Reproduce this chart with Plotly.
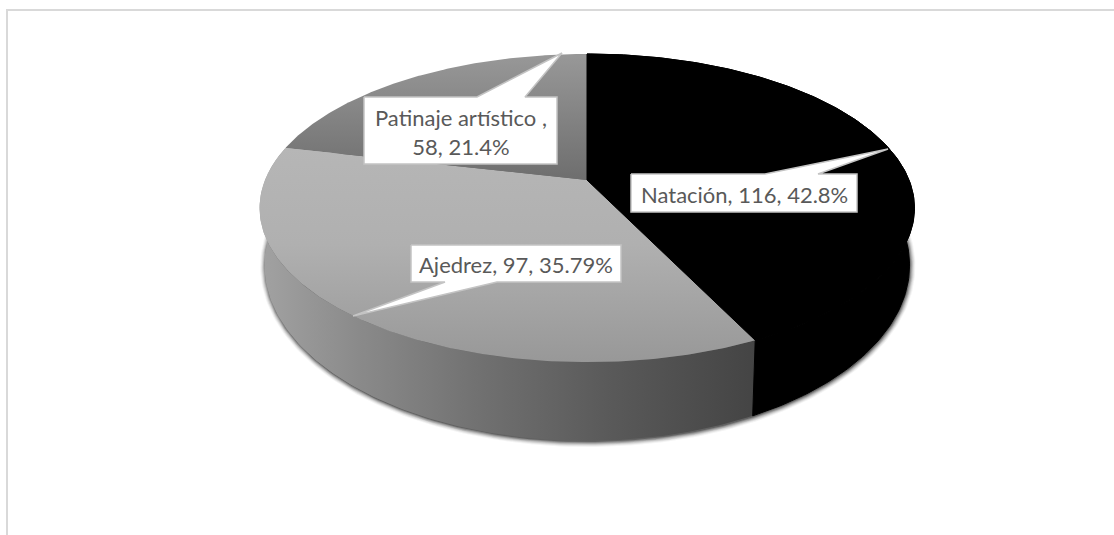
import numpy as np
import plotly.graph_objects as go

categories = ["Natación", "Ajedrez", "Patinaje artístico"]
values = [116, 97, 58]
labels = ["Natación, 116, 42.8%", "Ajedrez, 97, 35.79%", "Patinaje artístico ,<br>58, 21.4%"]

# projection of the pie disc on to the page (pixels)
CX, CY, A, PA, PC = 587.0, 180.0, 322.0, -116.2, 0.182
SIDE_K, SIDE_T, SIDE_X = 1.14, 28.0, 0.985


def top(theta):
    u, v = np.sin(theta), np.cos(theta)
    d = PC * v + 1
    return CX + A * u / d, (PA * v + CY) / d


def bottom(theta):
    x, y = top(theta)
    return CX + (x - CX) * SIDE_X, y * SIDE_K + SIDE_T


fractions = np.array(values) / sum(values)
edges = np.concatenate([[0], np.cumsum(fractions)]) * 2 * np.pi

fig = go.Figure()


def poly(x, y, color=None, grad=None, name=None, edge=None):
    kw = dict(fillgradient=grad) if grad else dict(fillcolor=color)
    line = dict(width=1, color=edge) if edge else dict(width=0, color="rgba(0,0,0,0)")
    fig.add_trace(go.Scatter(x=list(x), y=list(y), mode="lines", fill="toself",
                             line=line, hoverinfo="skip", showlegend=False, name=name, **kw))


# soft shadow under the disc
ring = np.linspace(0, 2 * np.pi, 361)
for grow, alpha in [(5, .05), (4, .08), (3, .12), (2, .18), (1, .25), (0, .35)]:
    bx, by = bottom(ring)
    poly(CX + (bx - CX) * (1 + grow / 320) + 0.8, by + (by - 270) * grow / 170 + 1.2,
         color=f"rgba(30,30,30,{alpha})")

# sides
t = np.linspace(edges[1], edges[2], 160)
tx, ty = top(t)
bx, by = bottom(t)
poly(np.r_[tx, bx[::-1]], np.r_[ty, by[::-1]], name=categories[1] + " side",
     grad=dict(type="horizontal", start=260, stop=756,
               colorscale=[[0, "#a2a2a2"], [.2, "#8a8a8a"], [.45, "#707070"],
                           [.7, "#5a5a5a"], [1, "#444444"]]))
t = np.linspace(edges[0], edges[1], 160)
tx, ty = top(t)
bx, by = bottom(t)
poly(np.r_[tx, bx[::-1]], np.r_[ty, by[::-1]], color="#000000", edge="#000000",
     name=categories[0] + " side")

# top face
grads = [
    None,
    dict(type="vertical", start=148, stop=362,
         colorscale=[[0, "#b6b6b6"], [.45, "#b0b0b0"], [1, "#989898"]]),
    dict(type="vertical", start=54, stop=180,
         colorscale=[[0, "#989898"], [1, "#6e6e6e"]]),
]
for i, name in enumerate(categories):
    if grads[i]:
        t = np.linspace(edges[i], edges[i + 1], 200)
        x, y = top(t)
        poly(np.r_[CX, x, CX], np.r_[CY, y, CY], grad=grads[i], name=name)
t = np.linspace(edges[0], edges[1], 200)
x, y = top(t)
poly(np.r_[CX, x, CX], np.r_[CY, y, CY], color="#000000", edge="#000000", name=categories[0])

# data label callouts: box (x0, x1, y0, y1), base of pointer on box top edge, tip
boxes = [(631, 857, 174, 212, 765, 818, 888, 149),
         (411, 621, 245, 282, 445, 497, 353, 316),
         (364, 557, 97, 164, 477, 525, 562, 53)]
text_y = [194, 264, 132]
for lab, (x0, x1, y0, y1, b0, b1, tipx, tipy), ty_ in zip(labels, boxes, text_y):
    if tipy < y0:
        px = [x0, b0, tipx, b1, x1, x1, x0, x0]
        py = [y0, y0, tipy, y0, y0, y1, y1, y0]
    else:
        px = [x0, x1, x1, b1, tipx, b0, x0, x0]
        py = [y0, y0, y1, y1, tipy, y1, y1, y0]
    fig.add_trace(go.Scatter(x=px, y=py, mode="lines", fill="toself", fillcolor="#ffffff",
                             line=dict(width=1.5, color="#c4c4c4"), hoverinfo="skip",
                             showlegend=False))
    fig.add_annotation(x=(x0 + x1) / 2, y=ty_, text=lab, showarrow=False, align="center",
                       font=dict(family="Lato", size=22, color="#595959"))

# chart frame
fig.add_shape(type="line", x0=7, x1=7, y0=10, y1=535, line=dict(color="#d9d9d9", width=2))
fig.add_shape(type="line", x0=6, x1=1114, y0=10, y1=10, line=dict(color="#d9d9d9", width=2))

fig.update_xaxes(range=[0, 1114], visible=False, fixedrange=True)
fig.update_yaxes(range=[535, 0], visible=False, fixedrange=True)
fig.update_layout(width=1114, height=535, margin=dict(l=0, r=0, t=0, b=0),
                  paper_bgcolor="#ffffff", plot_bgcolor="#ffffff", showlegend=False)
fig.write_html("out.html", config=dict(displayModeBar=False),
               post_script="document.body.style.margin='0';document.body.style.overflow='hidden';")
